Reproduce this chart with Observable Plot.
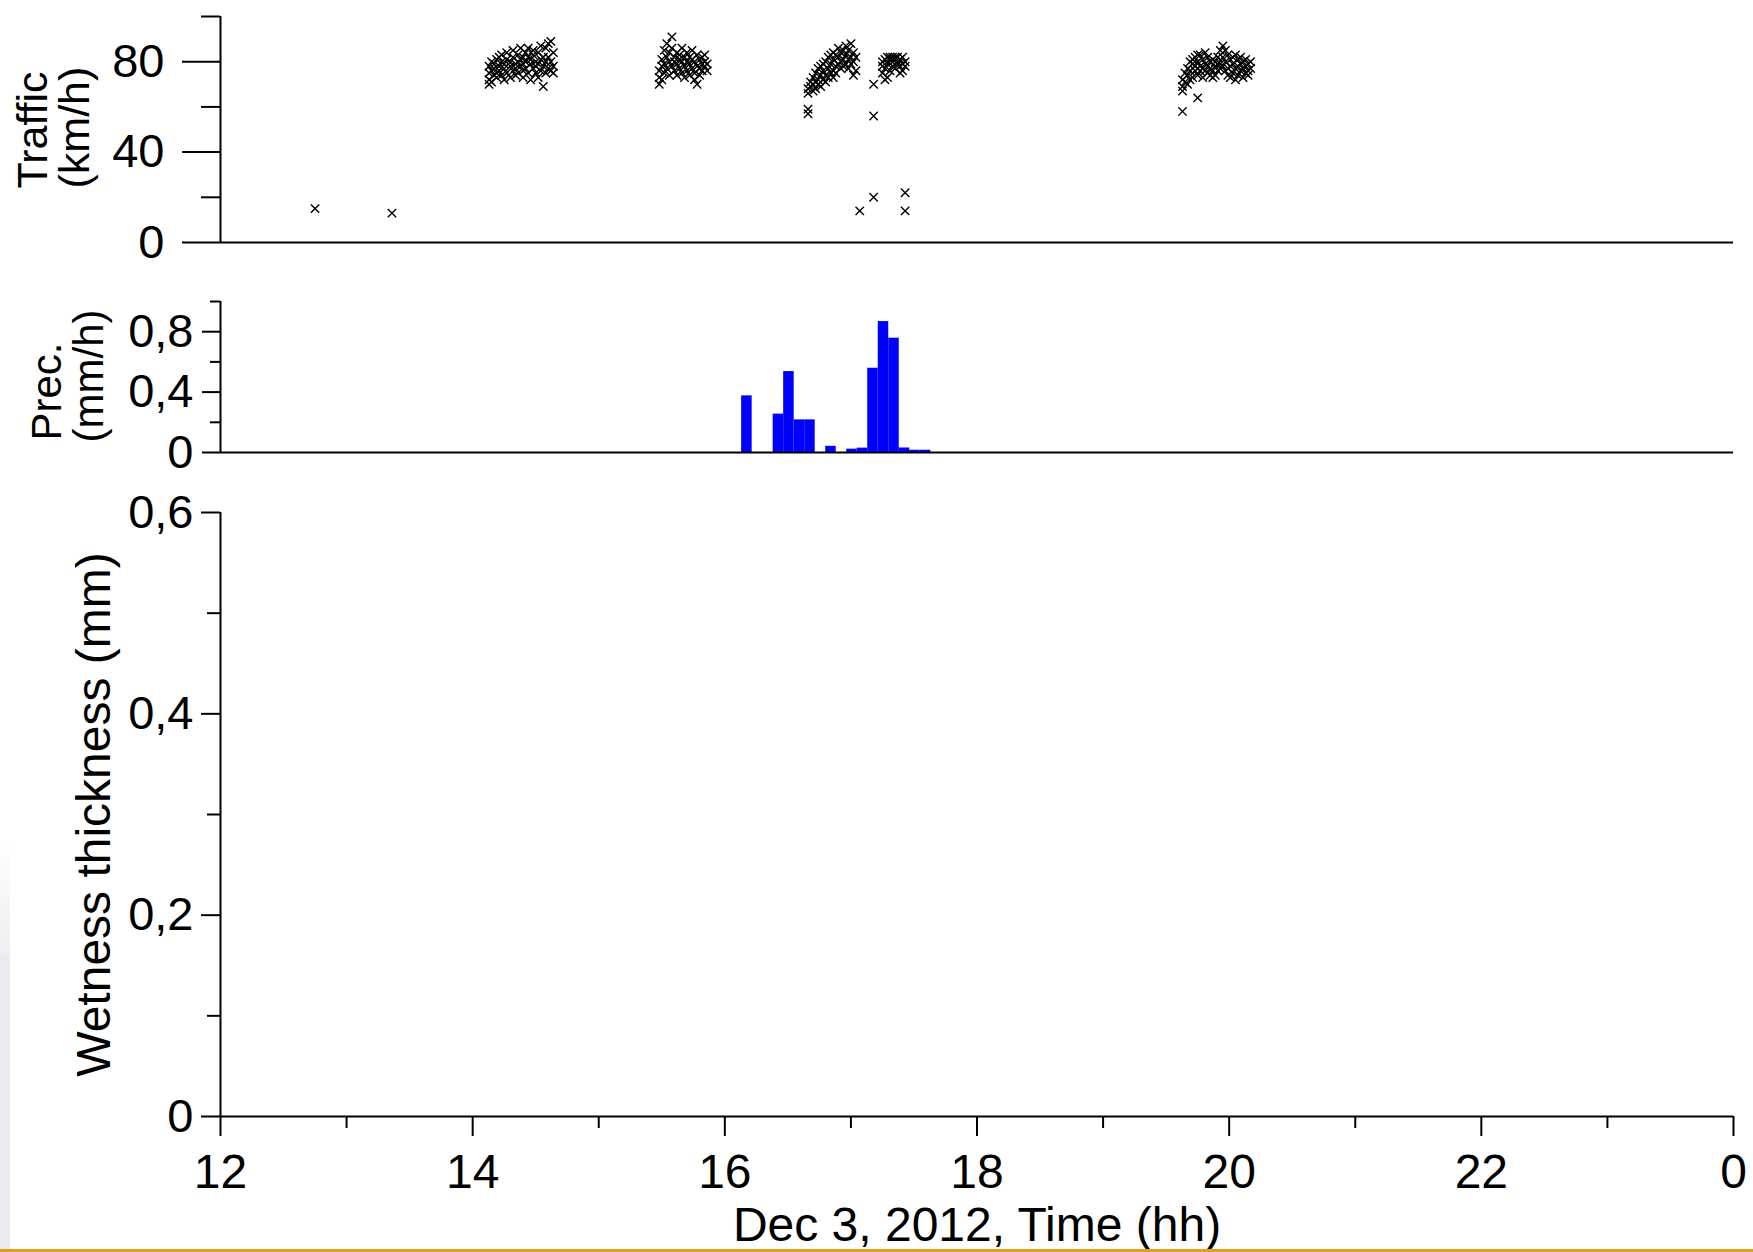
<!DOCTYPE html>
<html>
<head>
<meta charset="utf-8">
<script src="https://cdn.jsdelivr.net/npm/d3@7"></script>
<script src="https://cdn.jsdelivr.net/npm/@observablehq/plot@0.6"></script>
<style>
  html, body { margin: 0; padding: 0; background: #fff; }
  #wrap { position: relative; width: 1753px; height: 1252px; overflow: hidden; background: #fff; font-family: "Liberation Sans", Arial, sans-serif; }
  .panel { position: absolute; left: 0; }
  .panel svg { display: block; overflow: visible; }
  #strip { position: absolute; left: 0; top: 840px; width: 10px; height: 410px;
    background: linear-gradient(to bottom, rgba(233,235,238,0) 0%, #eceef1 28%, #e9ebee 29%, #e9ebee 100%); }
  #goldline { position: absolute; left: 0; top: 1249px; width: 1753px; height: 3px; background: #d9a31f; }
</style>
</head>
<body>
<div id="wrap">
  <div id="strip"></div>
  <div class="panel" id="p1" style="top:0px"></div>
  <div class="panel" id="p2" style="top:290px"></div>
  <div class="panel" id="p3" style="top:490px"></div>
  <div id="goldline"></div>
</div>
<script>
// ---------------- DATA ----------------
// Time axis (hours of Dec 3, 2012; 24 = midnight)
const xDomain = [12, 24];
const xMajorTicks = [12, 14, 16, 18, 20, 22, 24];
const xMinorTicks = [13, 15, 17, 19, 21, 23];

// Traffic speed (km/h): isolated readings [hour, speed]
const trafficSingles = [
  [12.75, 15], [13.36, 13], [17.07, 14], [17.18, 20], [17.18, 56], [17.18, 70],
  [17.43, 22], [17.43, 14], [16.66, 57], [16.66, 59], [19.63, 58], [19.75, 64]
];
// Traffic clusters: [hour, [speeds...]]
const trafficCluster1 = [
  [14.13, [70, 72, 75, 78]], [14.15, [71, 76, 80]], [14.17, [74, 79, 77]], [14.19, [81, 75, 73]],
  [14.21, [78, 82, 76]], [14.23, [74, 80, 83]], [14.25, [77, 72, 79]], [14.27, [81, 75, 84]],
  [14.30, [78, 73, 80]], [14.32, [82, 76, 85]], [14.34, [79, 74, 77]], [14.36, [83, 80, 75]],
  [14.38, [86, 78, 81]], [14.40, [76, 82, 79, 73]], [14.42, [84, 80, 77]], [14.44, [86, 75, 82]],
  [14.46, [79, 72, 81]], [14.48, [83, 77, 85]], [14.50, [80, 75, 78]], [14.52, [84, 79, 73]],
  [14.54, [76, 81, 87]], [14.56, [69, 78, 82]], [14.58, [86, 80, 75]], [14.60, [88, 77, 82]],
  [14.62, [76, 80, 89]], [14.64, [78, 84, 75]]
];
const trafficCluster2 = [
  [15.48, [70, 73, 76]], [15.50, [78, 81, 72]], [15.52, [85, 75, 79]], [15.54, [88, 82, 77]],
  [15.56, [80, 74, 84]], [15.58, [91, 86, 78]], [15.60, [82, 76, 80]], [15.62, [84, 79, 74]],
  [15.64, [77, 83, 81]], [15.66, [80, 75, 86]], [15.68, [78, 82, 73]], [15.70, [84, 76, 80]],
  [15.72, [79, 74, 82]], [15.74, [81, 77, 85]], [15.76, [75, 80, 72]], [15.78, [83, 78, 70]],
  [15.80, [77, 81, 74]], [15.82, [82, 79, 76]], [15.84, [80, 78, 83]], [15.86, [79, 76]]
];
const trafficCluster3 = [
  [16.66, [68, 66]], [16.68, [71, 69]], [16.70, [73, 67, 70]], [16.72, [75, 71, 68]],
  [16.74, [77, 72, 70]], [16.76, [74, 69, 78]], [16.78, [76, 72, 79]], [16.80, [80, 74, 71]],
  [16.82, [77, 82, 73]], [16.84, [79, 75, 83]], [16.86, [81, 76, 73, 84]], [16.88, [78, 83, 75]],
  [16.90, [82, 79, 86]], [16.92, [80, 77, 84]], [16.94, [85, 81, 78]], [16.96, [83, 79, 87]],
  [16.98, [81, 85, 77]], [17.00, [88, 82, 79]], [17.02, [84, 74, 80]], [17.04, [82, 76]]
];
const trafficCluster4 = [
  [17.25, [78, 75, 80]], [17.27, [72, 77, 81]], [17.29, [73, 79, 82]], [17.31, [81, 76, 82]],
  [17.33, [82, 78, 80]], [17.35, [81, 77, 82]], [17.37, [82, 79, 80]], [17.39, [81, 75, 78]],
  [17.41, [82, 76, 79]], [17.43, [80, 78]]
];
const trafficCluster5 = [
  [19.63, [69, 72, 67]], [19.65, [71, 75]], [19.67, [74, 70, 77]], [19.69, [76, 72, 80]],
  [19.71, [79, 73, 81]], [19.73, [82, 76, 78]], [19.75, [80, 74, 83]], [19.77, [83, 78, 76]],
  [19.79, [81, 77, 73]], [19.81, [79, 84, 76]], [19.83, [82, 78, 75]], [19.85, [80, 77, 74]],
  [19.87, [76, 81, 73]], [19.89, [78, 74, 80]], [19.91, [82, 76, 79]], [19.93, [85, 79, 77]],
  [19.95, [87, 82, 78]], [19.97, [85, 80, 76]], [19.99, [83, 77, 74]], [20.01, [81, 78, 73]],
  [20.03, [79, 75, 82]], [20.05, [77, 83, 72]], [20.07, [81, 74, 78]], [20.09, [79, 76, 82]],
  [20.11, [77, 73, 80]], [20.13, [81, 75, 78]], [20.15, [79, 74, 76]], [20.17, [80, 77]]
];
const trafficTicks = [0, 40, 80];
const trafficMinorTicks = [20, 60, 100];

// Precipitation (mm/h), 5-minute bins: bin start time and intensity
const precStart = ["16:08", "16:23", "16:28", "16:33", "16:38", "16:48", "16:58",
                   "17:03", "17:08", "17:13", "17:18", "17:23", "17:28", "17:33"];
const precValue = [0.375, 0.254, 0.536, 0.216, 0.216, 0.041, 0.022,
                   0.029, 0.558, 0.867, 0.757, 0.030, 0.015, 0.015];
const precBinMinutes = 5;
const precTicks = [0, 0.4, 0.8];
const precMinorTicks = [0.2, 0.6, 1.0];

// Wetness thickness (mm): no data recorded, axis only
const wetTicks = [0, 0.2, 0.4, 0.6];
const wetMinorTicks = [0.1, 0.3, 0.5];

const xLabel = "Dec 3, 2012, Time (hh)";
// ---------------- BUILD ----------------
const traffic = [];
for (const [t, v] of trafficSingles) traffic.push({t, v});
for (const cl of [trafficCluster1, trafficCluster2, trafficCluster3, trafficCluster4, trafficCluster5])
  for (const [t, vs] of cl) for (const v of vs) traffic.push({t, v});

const toHours = s => { const [h, m] = s.split(":").map(Number); return h + m / 60; };
const precip = precStart.map((s, i) => ({start: toHours(s), end: toHours(s) + precBinMinutes / 60, v: precValue[i]}));

const comma = d => String(d).replace(".", ",");
const FONT = "'Liberation Sans', Arial, sans-serif";
const W = 1753, ML = 220, MR = 20;
const AX = {stroke: "#000", strokeWidth: 2};
const common = {width: W, marginLeft: ML, marginRight: MR,
  style: {fontFamily: FONT, color: "#000", background: "transparent", overflow: "visible"}};

// Panel 1: Traffic
const p1 = Plot.plot({
  ...common, height: 262, marginTop: 16, marginBottom: 20,
  x: {domain: xDomain, axis: null},
  y: {domain: [0, 100], axis: null},
  marks: [
    Plot.dot(traffic, {x: "t", y: "v", symbol: "times", r: 3.9, stroke: "#000", strokeWidth: 1.4}),
    Plot.axisY(trafficTicks, {tickSize: 38, tickPadding: 18, fontSize: 47, label: null, ...AX}),
    Plot.axisY(trafficMinorTicks, {tickSize: 19, text: null, label: null, ...AX}),
    Plot.ruleX([xDomain[0]], {y1: 0, y2: 100, ...AX}),
    Plot.ruleY([0], {x1: xDomain[0], x2: xDomain[1], ...AX}),
    Plot.text(["Traffic"], {text: d => d, frameAnchor: "bottom-left", rotate: -90, textAnchor: "start", dx: -174, dy: -54, fontSize: 43, fill: "#000"}),
    Plot.text(["(km/h)"], {text: d => d, frameAnchor: "bottom-left", rotate: -90, textAnchor: "start", dx: -132, dy: -54, fontSize: 43, fill: "#000"})
  ]
});
document.getElementById("p1").append(p1);

// Panel 2: Precipitation
const p2 = Plot.plot({
  ...common, height: 170, marginTop: 11, marginBottom: 8,
  x: {domain: xDomain, axis: null},
  y: {domain: [0, 1], axis: null},
  marks: [
    Plot.rectY(precip, {x1: "start", x2: "end", y: "v", fill: "#0000ff"}),
    Plot.axisY(precTicks, {tickSize: 18, tickPadding: 9, fontSize: 47, tickFormat: comma, label: null, ...AX}),
    Plot.axisY(precMinorTicks, {tickSize: 10, text: null, label: null, ...AX}),
    Plot.ruleX([xDomain[0]], {y1: 0, y2: 1, ...AX}),
    Plot.ruleY([0], {x1: xDomain[0], x2: xDomain[1], ...AX}),
    Plot.text(["Prec."], {text: d => d, frameAnchor: "bottom-left", rotate: -90, textAnchor: "start", dx: -160, dy: -12, fontSize: 42, fill: "#000"}),
    Plot.text(["(mm/h)"], {text: d => d, frameAnchor: "bottom-left", rotate: -90, textAnchor: "start", dx: -118, dy: -10, fontSize: 42, fill: "#000"})
  ]
});
document.getElementById("p2").append(p2);

// Panel 3: Wetness thickness
const p3 = Plot.plot({
  ...common, height: 762, marginTop: 22, marginBottom: 136,
  x: {domain: xDomain, axis: null},
  y: {domain: [0, 0.6], axis: null},
  marks: [
    Plot.axisY(wetTicks, {tickSize: 19, tickPadding: 8, fontSize: 47, tickFormat: comma, label: null, ...AX}),
    Plot.axisY(wetMinorTicks, {tickSize: 13, text: null, label: null, ...AX}),
    Plot.axisX(xMajorTicks, {tickSize: 20, tickPadding: 17, fontSize: 48, tickFormat: d => String(d % 24), label: null, ...AX}),
    Plot.axisX(xMinorTicks, {tickSize: 12, text: null, label: null, ...AX}),
    Plot.ruleX([xDomain[0]], {y1: 0, y2: 0.6, ...AX}),
    Plot.ruleY([0], {x1: xDomain[0], x2: xDomain[1], ...AX}),
    Plot.text(["Wetness thickness (mm)"], {text: d => d, frameAnchor: "left", rotate: -90, textAnchor: "middle", dx: -126, fontSize: 48, fill: "#000"}),
    Plot.text([xLabel], {text: d => d, frameAnchor: "bottom", dy: 124, fontSize: 48, fill: "#000"})
  ]
});
document.getElementById("p3").append(p3);
</script>
</body>
</html>
